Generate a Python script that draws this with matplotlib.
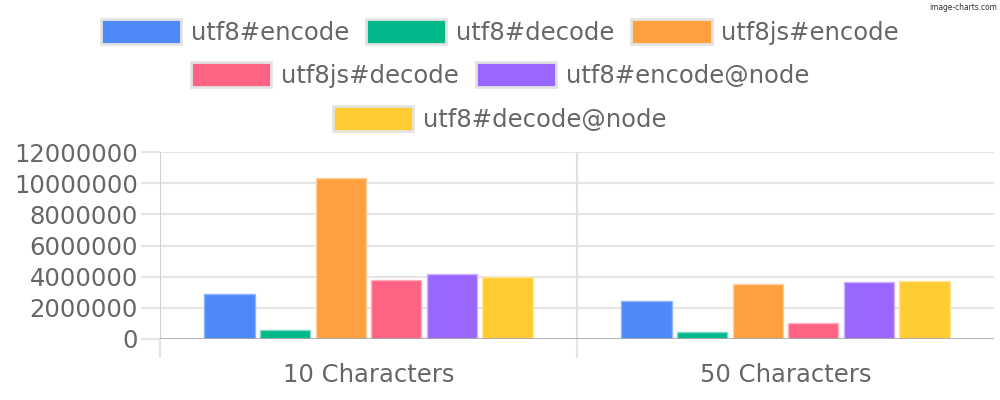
import matplotlib
matplotlib.use("Agg")
import matplotlib.pyplot as plt
from matplotlib.patches import Rectangle
import numpy as np

categories = ["10 Characters", "50 Characters"]
series_names = ["utf8#encode", "utf8#decode", "utf8js#encode",
                "utf8js#decode", "utf8#encode@node", "utf8#decode@node"]
utf8_encode = [2870000, 2420000]
utf8_decode = [560000, 470000]
utf8js_encode = [10350000, 3550000]
utf8js_decode = [3810000, 1050000]
utf8_encode_node = [4170000, 3660000]
utf8_decode_node = [4000000, 3740000]
yticks = [0, 2000000, 4000000, 6000000, 8000000, 10000000, 12000000]

series = [utf8_encode, utf8_decode, utf8js_encode, utf8js_decode,
          utf8_encode_node, utf8_decode_node]
colors = ["#4D89F9", "#00B88A", "#FFA040", "#FF6384", "#9966FF", "#FFCD33"]
edges = ["#8FB4FB", "#7FDBC4", "#FFCF9F", "#FFB1C1", "#CCB2FF", "#FFE699"]

plt.rcParams['font.family'] = ['DejaVu Sans']
FS = 17.5
TXT = "#666666"

fig = plt.figure(figsize=(10, 4), dpi=100)
ax = fig.add_axes([0.16, 1 - 339 / 400, 0.834, (339 - 152) / 400])

x = np.arange(len(categories))
n = len(series)
slot = 0.8 / n
for i, (vals, c, e) in enumerate(zip(series, colors, edges)):
    pos = x - 0.4 + slot * (i + 0.5)
    ax.bar(pos, vals, width=slot * 0.9, color=c, edgecolor=e, linewidth=1, zorder=3)

ax.set_xlim(-0.5, 1.5)
ax.set_ylim(0, 12000000)

for s in ax.spines.values():
    s.set_visible(False)

# horizontal grid
for t in yticks[1:]:
    ax.axhline(t, color="#e5e5e5", lw=1.5, zorder=1)
ax.axhline(0, color="#aaaaaa", lw=2, zorder=4)
# vertical lines at category boundaries
for b in [-0.5, 0.5]:
    ax.axvline(b, color="#d0d0d0" if b < 0 else "#e0e0e0", lw=1.5, zorder=1)

ax.set_yticks(yticks)
ax.set_yticklabels([str(t) for t in yticks])
ax.tick_params(axis='y', length=14, width=1.5, color="#e5e5e5", pad=2,
               labelsize=FS, labelcolor=TXT)

ax.set_xticks([-0.5, 0.5])
ax.set_xticklabels(["", ""])
ax.tick_params(axis='x', which='major', length=14, width=1.5, color="#e5e5e5")
ax.set_xticks(x, minor=True)
ax.set_xticklabels(categories, minor=True)
ax.tick_params(axis='x', which='minor', length=0, pad=17, labelsize=FS, labelcolor=TXT)

# legend rows
rows = [[0, 1, 2], [3, 4], [5]]
ys = [1 - 32 / 400, 1 - 75 / 400, 1 - 119 / 400]
for row, yy in zip(rows, ys):
    handles = [Rectangle((0, 0), 1, 1, facecolor=colors[i], edgecolor="#e3e3e3", linewidth=2)
               for i in row]
    labels = [series_names[i] for i in row]
    leg = fig.legend(handles, labels, loc='center', bbox_to_anchor=(0.5, yy),
                     ncol=len(row), frameon=False, fontsize=FS,
                     handlelength=3.3, handleheight=1.2, handletextpad=0.4,
                     columnspacing=0.7, borderpad=0, borderaxespad=0)
    for t in leg.get_texts():
        t.set_color(TXT)

fig.text(0.997, 0.992, "image-charts.com", ha='right', va='top', fontsize=6,
         color="#333333", fontstretch='condensed')

fig.savefig("out.png", dpi=100)
